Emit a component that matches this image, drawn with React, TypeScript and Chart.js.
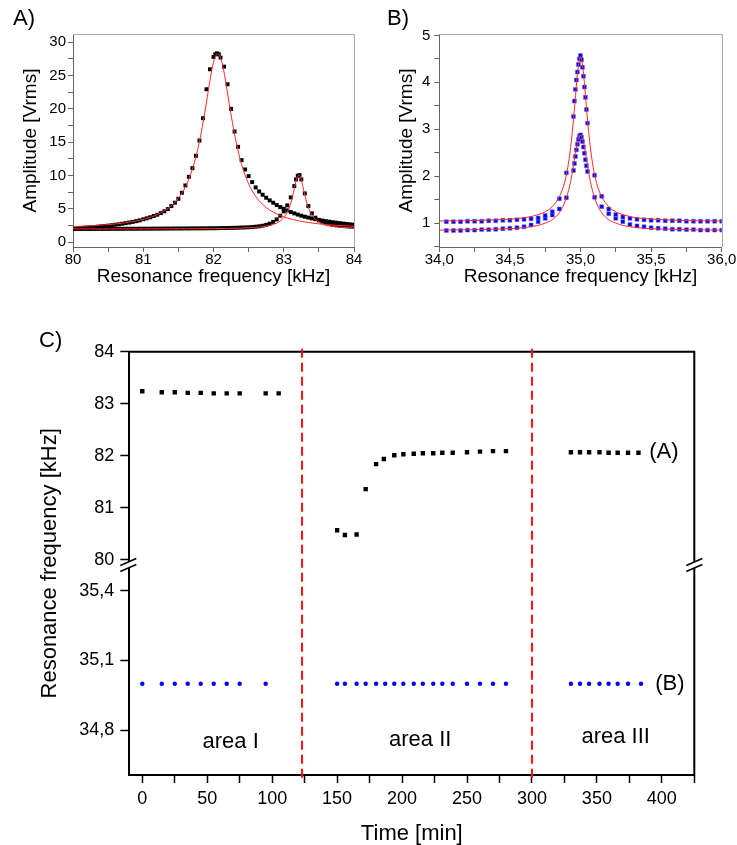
import React, { useEffect, useRef } from 'react';
import { Chart, registerables } from 'chart.js';

Chart.register(...registerables);

const FONT = "'Liberation Sans', Arial, Helvetica, sans-serif";
const RED = '#ff2a2a';

// ---------------- Panel A : amplitude vs frequency (80-84 kHz) ----------------
const A_PEAK1_FREQ = [
  80.0, 80.05, 80.1, 80.15, 80.2, 80.25, 80.3, 80.35, 80.4, 80.45,
  80.5, 80.55, 80.6, 80.65, 80.7, 80.75, 80.8, 80.85, 80.9, 80.95,
  81.0, 81.05, 81.1, 81.15, 81.2, 81.25, 81.3, 81.35, 81.4, 81.45,
  81.5, 81.55, 81.6, 81.65, 81.7, 81.75, 81.8, 81.85, 81.9, 81.95,
  82.0, 82.025, 82.05, 82.075, 82.1, 82.15, 82.2, 82.25, 82.3, 82.35, 82.4, 82.45,
  82.5, 82.55, 82.6, 82.65, 82.7, 82.75, 82.8, 82.85, 82.9, 82.95,
  83.0, 83.05, 83.1, 83.15, 83.2, 83.25, 83.3, 83.35, 83.4, 83.45,
  83.5, 83.55, 83.6, 83.65, 83.7, 83.75, 83.8, 83.85, 83.9, 83.95, 84.0,
];
const A_PEAK1_AMP = [
  2.05, 2.08, 2.11, 2.14, 2.18, 2.22, 2.26, 2.3, 2.35, 2.4,
  2.46, 2.52, 2.59, 2.66, 2.74, 2.83, 2.92, 3.02, 3.13, 3.25,
  3.42, 3.56, 3.72, 3.9, 4.1, 4.35, 4.62, 4.95, 5.4, 5.9,
  6.5, 7.4, 8.5, 9.8, 11.1, 12.95, 15.25, 18.6, 22.95, 25.95,
  27.8, 28.2, 28.35, 28.2, 27.7, 26.35, 23.7, 20.0, 16.6, 14.3, 12.3, 10.9,
  9.9, 9.0, 8.2, 7.6, 7.1, 6.65, 6.25, 5.9, 5.55, 5.25,
  5.0, 4.75, 4.5, 4.3, 4.12, 3.95, 3.8, 3.67, 3.55, 3.43,
  3.32, 3.22, 3.13, 3.05, 2.97, 2.9, 2.83, 2.76, 2.7, 2.65, 2.6,
];
const A_PEAK2_FREQ = [
  80.0, 80.05, 80.1, 80.15, 80.2, 80.25, 80.3, 80.35, 80.4, 80.45,
  80.5, 80.55, 80.6, 80.65, 80.7, 80.75, 80.8, 80.85, 80.9, 80.95,
  81.0, 81.05, 81.1, 81.15, 81.2, 81.25, 81.3, 81.35, 81.4, 81.45,
  81.5, 81.55, 81.6, 81.65, 81.7, 81.75, 81.8, 81.85, 81.9, 81.95,
  82.0, 82.05, 82.1, 82.15, 82.2, 82.25, 82.3, 82.35, 82.4, 82.45,
  82.5, 82.55, 82.6, 82.65, 82.7, 82.75, 82.8, 82.85, 82.9, 82.95,
  83.0, 83.05, 83.1, 83.15, 83.175, 83.2, 83.225, 83.25, 83.3, 83.35, 83.4, 83.45,
  83.5, 83.55, 83.6, 83.65, 83.7, 83.75, 83.8, 83.85, 83.9, 83.95, 84.0,
];
const A_PEAK2_AMP = [
  1.95, 1.95, 1.95, 1.96, 1.96, 1.96, 1.96, 1.97, 1.97, 1.97,
  1.97, 1.98, 1.98, 1.98, 1.98, 1.99, 1.99, 1.99, 1.99, 2.0,
  2.0, 2.0, 2.0, 2.01, 2.01, 2.01, 2.02, 2.02, 2.02, 2.03,
  2.03, 2.03, 2.04, 2.04, 2.05, 2.05, 2.05, 2.06, 2.06, 2.07,
  2.07, 2.08, 2.09, 2.1, 2.11, 2.12, 2.13, 2.15, 2.17, 2.19,
  2.22, 2.25, 2.3, 2.36, 2.45, 2.58, 2.76, 3.02, 3.4, 3.95,
  4.6, 5.5, 6.7, 8.4, 9.4, 9.95, 10.05, 9.4, 7.3, 5.4, 4.3, 3.65,
  3.25, 2.98, 2.8, 2.67, 2.58, 2.5, 2.44, 2.39, 2.35, 2.31, 2.28,
];
const A_FIT1_FREQ = [
  80.0, 80.25, 80.5, 80.75, 81.0, 81.2, 81.4, 81.5, 81.6, 81.7,
  81.8, 81.85, 81.9, 81.95, 82.0, 82.06, 82.12, 82.17, 82.22, 82.27,
  82.32, 82.4, 82.5, 82.6, 82.7, 82.8, 83.0, 83.25, 83.5, 83.75, 84.0,
];
const A_FIT1_AMP = [
  2.31, 2.43, 2.61, 2.9, 3.4, 4.11, 5.45, 6.58, 8.29, 10.95,
  15.1, 17.9, 21.0, 24.3, 27.0, 28.3, 27.0, 24.3, 21.0, 17.9,
  15.1, 11.64, 8.73, 6.87, 5.64, 4.8, 3.78, 3.1, 2.73, 2.51, 2.37,
];
const A_FIT2_FREQ = [
  80.0, 81.0, 82.0, 82.4, 82.6, 82.7, 82.8, 82.9, 82.95, 83.0,
  83.05, 83.1, 83.15, 83.18, 83.215, 83.25, 83.28, 83.33, 83.38, 83.43,
  83.48, 83.53, 83.63, 83.73, 83.83, 84.0,
];
const A_FIT2_AMP = [
  1.96, 1.97, 2.02, 2.09, 2.2, 2.31, 2.49, 2.84, 3.15, 3.64,
  4.46, 5.84, 7.99, 9.35, 10.1, 9.35, 7.99, 5.84, 4.46, 3.64,
  3.15, 2.84, 2.49, 2.31, 2.2, 2.1,
];

// ---------------- Panel B : amplitude vs frequency (34-36 kHz) ----------------
const B_FREQ = [
  34.05, 34.1, 34.15, 34.2, 34.25, 34.3, 34.35, 34.4, 34.45, 34.5,
  34.55, 34.6, 34.65, 34.7, 34.75, 34.8, 34.85, 34.9,
  34.95, 34.957, 34.964, 34.971, 34.978, 34.985, 34.992, 35.0,
  35.007, 35.014, 35.021, 35.028, 35.035, 35.042, 35.05,
  35.1, 35.15, 35.2, 35.25, 35.3, 35.35, 35.4, 35.45, 35.5, 35.55,
  35.6, 35.65, 35.7, 35.75, 35.8, 35.85, 35.9, 35.95, 36.0,
];
const B_TALL_AMP = [
  1.03, 1.03, 1.03, 1.04, 1.04, 1.04, 1.05, 1.05, 1.06, 1.06,
  1.07, 1.08, 1.09, 1.11, 1.16, 1.24, 1.52, 2.07,
  3.27, 3.6, 3.85, 4.05, 4.22, 4.38, 4.5, 4.57,
  4.48, 4.32, 4.13, 3.9, 3.68, 3.42, 3.13,
  2.02, 1.57, 1.3, 1.18, 1.13, 1.1, 1.08, 1.07, 1.06, 1.06,
  1.05, 1.05, 1.05, 1.04, 1.04, 1.04, 1.04, 1.04, 1.04,
];
const B_SHORT_AMP = [
  0.84, 0.84, 0.84, 0.85, 0.85, 0.86, 0.86, 0.87, 0.88, 0.89,
  0.9, 0.92, 0.96, 1.03, 1.1, 1.17, 1.3, 1.54,
  2.12, 2.27, 2.42, 2.56, 2.68, 2.78, 2.85, 2.88,
  2.83, 2.74, 2.62, 2.49, 2.35, 2.22, 2.1,
  1.55, 1.35, 1.2, 1.1, 1.03, 0.97, 0.94, 0.92, 0.9, 0.89,
  0.88, 0.87, 0.87, 0.86, 0.86, 0.85, 0.85, 0.85, 0.85,
];
const B_FIT_FREQ = [
  34.0, 34.2, 34.4, 34.5, 34.6, 34.7, 34.75, 34.8, 34.85, 34.88,
  34.9, 34.92, 34.94, 34.96, 34.98, 35.0, 35.02, 35.04, 35.06, 35.08,
  35.1, 35.12, 35.15, 35.2, 35.25, 35.3, 35.4, 35.5, 35.6, 35.8, 36.0,
];
const B_FIT_TALL = [
  1.045, 1.05, 1.07, 1.085, 1.11, 1.18, 1.24, 1.35, 1.56, 1.79,
  2.03, 2.38, 2.88, 3.54, 4.23, 4.55, 4.23, 3.54, 2.88, 2.38,
  2.03, 1.79, 1.56, 1.35, 1.24, 1.18, 1.11, 1.085, 1.07, 1.05, 1.045,
];
const B_FIT_SHORT = [
  0.85, 0.856, 0.87, 0.88, 0.904, 0.95, 1.0, 1.07, 1.22, 1.38,
  1.54, 1.75, 2.04, 2.4, 2.73, 2.88, 2.73, 2.4, 2.04, 1.75,
  1.54, 1.38, 1.22, 1.07, 1.0, 0.95, 0.904, 0.88, 0.87, 0.856, 0.85,
];

// ---------------- Panel C : resonance frequency vs time ----------------
const C_TIME_A = [
  0, 15, 25, 35, 45, 55, 65, 75, 95, 105,
  150, 156, 165, 172, 180, 186, 194, 201, 209, 216, 224, 231, 239, 250, 260, 270, 280,
  330, 337, 344, 352, 359, 366, 374, 382,
];
const C_FREQ_A = [
  83.24, 83.22, 83.22, 83.21, 83.21, 83.2, 83.2, 83.2, 83.2, 83.2,
  80.57, 80.48, 80.49, 81.36, 81.84, 81.94, 82.01, 82.03, 82.04, 82.05, 82.05, 82.06, 82.06, 82.07, 82.08, 82.09, 82.09,
  82.07, 82.07, 82.07, 82.07, 82.06, 82.06, 82.06, 82.06,
];
const C_TIME_B = [
  0, 15, 25, 35, 45, 55, 65, 75, 95,
  150, 156, 165, 172, 180, 187, 194, 201, 209, 216, 224, 231, 239, 250, 260, 270, 280,
  330, 337, 344, 352, 359, 366, 374, 384,
];
const C_FREQ_B = [
  35.0, 35.0, 35.0, 35.0, 35.0, 35.0, 35.0, 35.0, 35.0,
  35.0, 35.0, 35.0, 35.0, 35.0, 35.0, 35.0, 35.0, 35.0, 35.0, 35.0, 35.0, 35.0, 35.0, 35.0, 35.0, 35.0,
  35.0, 35.0, 35.0, 35.0, 35.0, 35.0, 35.0, 35.0,
];
const C_UPPER_TICKS_STEP = 1;
const C_LOWER_TICKS = [34.8, 35.1, 35.4];
const C_DIVIDERS = [123, 300];
const C_BREAK_AT = 80;
const AREA_TEXT = ['area I', 'area II', 'area III'];
const AREA_TIME = [68, 214, 364.5];
const AREA_FREQ = [34.724, 34.732, 34.745];
const TAG_A = { text: '(A)', time: 390.3, freq: 82.07 };
const TAG_B = { text: '(B)', time: 394.9, freq: 35.0 };

// ---------------- helpers ----------------
const pts = (xs: number[], ys: number[]) => xs.map((x, i) => ({ x, y: ys[i] }));
const isMult = (v: number, step: number) => Math.abs(v / step - Math.round(v / step)) < 1e-6;
const comma = (v: number, d: number) => v.toFixed(d).replace('.', ',');

const abFrame = {
  id: 'abFrame',
  afterDraw(chart: any) {
    const { ctx, chartArea: ca } = chart;
    ctx.save();
    ctx.strokeStyle = '#a8a8a8';
    ctx.lineWidth = 1;
    ctx.beginPath();
    const t = Math.round(ca.top) + 0.5;
    const r = Math.round(ca.right) + 0.5;
    ctx.moveTo(ca.left, t);
    ctx.lineTo(r, t);
    ctx.lineTo(r, ca.bottom);
    ctx.stroke();
    ctx.restore();
  },
};

function abConfig(p: {
  datasets: any[];
  padRight: number;
  yWidth: number;
  xMin: number; xMax: number; xStep: number; xLabelStep: number; xFmt: (v: number) => string;
  yMin: number; yMax: number; yStep: number; yLabelStep: number;
  yTitlePad: number; yTickPad: number;
}) {
  const tickFont = { family: FONT, size: 15, lineHeight: 1 };
  const titleFont = { family: FONT, size: 19, lineHeight: 1 };
  return {
    type: 'scatter',
    data: { datasets: p.datasets },
    options: {
      animation: false,
      responsive: false,
      devicePixelRatio: 1,
      events: [],
      layout: { padding: { left: 0, top: 34, right: p.padRight, bottom: 0 } },
      plugins: { legend: { display: false }, tooltip: { enabled: false } },
      scales: {
        x: {
          type: 'linear',
          min: p.xMin,
          max: p.xMax,
          afterFit: (s: any) => { s.height = 53; },
          ticks: {
            stepSize: p.xStep, autoSkip: false, maxRotation: 0, includeBounds: false,
            padding: 0, color: '#000', font: tickFont,
            callback: (v: any) => (isMult(Number(v), p.xLabelStep) ? p.xFmt(Number(v)) : ''),
          },
          grid: { drawOnChartArea: false, tickLength: 5, tickColor: '#666' },
          border: { color: '#666', width: 1 },
          title: {
            display: true, text: 'Resonance frequency [kHz]', color: '#000', font: titleFont,
            padding: { top: 0, bottom: 13.5 },
          },
        },
        y: {
          type: 'linear',
          min: p.yMin,
          max: p.yMax,
          afterFit: (s: any) => { s.width = p.yWidth; },
          ticks: {
            stepSize: p.yStep, autoSkip: false, includeBounds: false,
            padding: p.yTickPad, color: '#000', font: tickFont,
            callback: (v: any) => (isMult(Number(v), p.yLabelStep) ? String(Number(v)) : ''),
          },
          grid: { drawOnChartArea: false, tickLength: 5, tickColor: '#666' },
          border: { color: '#666', width: 1 },
          title: {
            display: true, text: 'Amplitude [Vrms]', color: '#000', font: titleFont,
            padding: { top: p.yTitlePad, bottom: 0 },
          },
        },
      },
    },
    plugins: [abFrame],
  };
}

const fitLine = (data: any[]) => ({
  data, showLine: true, borderColor: RED, borderWidth: 1, pointRadius: 0,
  cubicInterpolationMode: 'monotone', order: 0,
});

function configA() {
  const sq = (data: any[]) => ({
    data, showLine: false, pointStyle: 'rect', pointRadius: 2.8,
    backgroundColor: '#000', borderColor: '#000', borderWidth: 0, order: 1,
  });
  return abConfig({
    datasets: [
      fitLine(pts(A_FIT1_FREQ, A_FIT1_AMP)),
      fitLine(pts(A_FIT2_FREQ, A_FIT2_AMP)),
      sq(pts(A_PEAK1_FREQ, A_PEAK1_AMP)),
      sq(pts(A_PEAK2_FREQ, A_PEAK2_AMP)),
    ],
    padRight: 16, yWidth: 73,
    xMin: 80, xMax: 84, xStep: 0.5, xLabelStep: 1, xFmt: (v) => String(v),
    yMin: -0.75, yMax: 31.25, yStep: 2.5, yLabelStep: 5,
    yTitlePad: 21.5, yTickPad: 2,
  });
}

function configB() {
  const sq = (data: any[]) => ({
    data, showLine: false, pointStyle: 'rect', pointRadius: 2.8,
    backgroundColor: '#0000f0', borderColor: 'rgba(110,110,255,0.55)', borderWidth: 1, order: 1,
  });
  return abConfig({
    datasets: [
      fitLine(pts(B_FIT_FREQ, B_FIT_TALL)),
      fitLine(pts(B_FIT_FREQ, B_FIT_SHORT)),
      sq(pts(B_FREQ, B_TALL_AMP)),
      sq(pts(B_FREQ, B_SHORT_AMP)),
    ],
    padRight: 15.3, yWidth: 69.3,
    xMin: 34, xMax: 36, xStep: 0.25, xLabelStep: 0.5, xFmt: (v) => comma(v, 1),
    yMin: 0.49, yMax: 5.03, yStep: 0.5, yLabelStep: 1,
    yTitlePad: 27.2, yTickPad: 4,
  });
}

const cOverlay = {
  id: 'cOverlay',
  afterDraw(chart: any) {
    const { ctx, chartArea: ca, scales } = chart;
    const xs = scales.x;
    const yTop = scales.yTop;
    const yBot = scales.yBot;
    ctx.save();
    // top and right frame
    ctx.strokeStyle = '#000';
    ctx.lineWidth = 2;
    ctx.beginPath();
    ctx.moveTo(ca.left - 1, ca.top);
    ctx.lineTo(ca.right, ca.top);
    ctx.lineTo(ca.right, ca.bottom + 1);
    ctx.stroke();
    // dashed area dividers
    ctx.strokeStyle = '#ff1010';
    ctx.lineWidth = 2;
    ctx.setLineDash([9, 5]);
    for (const t of C_DIVIDERS) {
      const px = xs.getPixelForValue(t);
      ctx.beginPath();
      ctx.moveTo(px, ca.top - 3);
      ctx.lineTo(px, ca.bottom + 3);
      ctx.stroke();
    }
    ctx.setLineDash([]);
    // axis breaks
    const by = yTop.getPixelForValue(C_BREAK_AT) + 5;
    for (const bx of [ca.left - 1, ca.right]) {
      ctx.fillStyle = '#fff';
      ctx.fillRect(bx - 3, by - 3, 6, 6);
      ctx.strokeStyle = '#000';
      ctx.lineWidth = 1.5;
      for (const c of [by - 3, by + 3]) {
        ctx.beginPath();
        ctx.moveTo(bx - 8, c + 3.5);
        ctx.lineTo(bx + 8, c - 3.5);
        ctx.stroke();
      }
    }
    // texts
    ctx.fillStyle = '#000';
    ctx.font = `22px ${FONT}`;
    ctx.textAlign = 'center';
    ctx.textBaseline = 'alphabetic';
    AREA_TEXT.forEach((txt, i) => {
      ctx.fillText(txt, xs.getPixelForValue(AREA_TIME[i]), yBot.getPixelForValue(AREA_FREQ[i]));
    });
    ctx.textAlign = 'left';
    ctx.textBaseline = 'middle';
    ctx.fillText(TAG_A.text, xs.getPixelForValue(TAG_A.time), yTop.getPixelForValue(TAG_A.freq));
    ctx.fillText(TAG_B.text, xs.getPixelForValue(TAG_B.time), yBot.getPixelForValue(TAG_B.freq));
    // y axis title (spans both stacked axes)
    ctx.translate(50, (ca.top + ca.bottom) / 2);
    ctx.rotate(-Math.PI / 2);
    ctx.textAlign = 'center';
    ctx.textBaseline = 'middle';
    ctx.fillText('Resonance frequency [kHz]', 0, 0);
    ctx.restore();
  },
};

function configC() {
  const tickFont = { family: FONT, size: 18, lineHeight: 1 };
  const yCommon = {
    type: 'linear',
    position: 'left',
    stack: 'freq',
    afterFit: (s: any) => { s.width = 129.3; },
    grid: { drawOnChartArea: false, tickLength: 9, tickColor: '#000', tickWidth: 1.5 },
    border: { color: '#000', width: 2 },
  };
  return {
    type: 'scatter',
    data: {
      datasets: [
        {
          data: pts(C_TIME_A, C_FREQ_A), yAxisID: 'yTop', showLine: false,
          pointStyle: 'rect', pointRadius: 3.1, backgroundColor: '#000', borderWidth: 0,
        },
        {
          data: pts(C_TIME_B, C_FREQ_B), yAxisID: 'yBot', showLine: false,
          pointStyle: 'circle', pointRadius: 2.2, backgroundColor: '#0000ff', borderWidth: 0,
        },
      ],
    },
    options: {
      animation: false,
      responsive: false,
      devicePixelRatio: 1,
      events: [],
      layout: { padding: { left: 0, top: 51.7, right: 42.7, bottom: 0 } },
      plugins: { legend: { display: false }, tooltip: { enabled: false } },
      scales: {
        x: {
          type: 'linear',
          min: -10,
          max: 425,
          afterFit: (s: any) => { s.height = 70; },
          ticks: {
            stepSize: 25, autoSkip: false, maxRotation: 0, includeBounds: false,
            padding: 7, color: '#000', font: tickFont,
            callback: (v: any) => (isMult(Number(v), 50) ? String(Number(v)) : ''),
          },
          grid: { drawOnChartArea: false, tickLength: 8, tickColor: '#000', tickWidth: 1.5 },
          border: { color: '#000', width: 2 },
          title: {
            display: true, text: 'Time [min]', color: '#000',
            font: { family: FONT, size: 22, lineHeight: 1 }, padding: { top: 0, bottom: 0 },
          },
        },
        yBot: {
          ...yCommon,
          stackWeight: 205,
          min: 34.607,
          max: 35.49,
          afterBuildTicks: (s: any) => { s.ticks = C_LOWER_TICKS.map((value) => ({ value })); },
          ticks: {
            autoSkip: false, padding: 6, color: '#000', font: tickFont,
            callback: (v: any) => comma(Number(v), 1),
          },
        },
        yTop: {
          ...yCommon,
          stackWeight: 218,
          min: 79.81,
          max: 84,
          ticks: {
            stepSize: C_UPPER_TICKS_STEP, autoSkip: false, includeBounds: false,
            padding: 6, color: '#000', font: tickFont,
            callback: (v: any) => String(Number(v)),
          },
        },
      },
    },
    plugins: [cOverlay],
  };
}

function ChartCanvas(props: { left: number; top: number; width: number; height: number; make: () => any }) {
  const ref = useRef<HTMLCanvasElement | null>(null);
  useEffect(() => {
    if (!ref.current) return;
    const chart = new Chart(ref.current, props.make());
    return () => chart.destroy();
  }, []);
  return (
    <canvas
      ref={ref}
      width={props.width}
      height={props.height}
      style={{ position: 'absolute', left: props.left, top: props.top, width: props.width, height: props.height }}
    />
  );
}

const panelLabel = (text: string, left: number, top: number) => (
  <div
    style={{
      position: 'absolute', left, top, fontFamily: FONT, fontSize: 22, lineHeight: '22px',
      color: '#000', whiteSpace: 'nowrap',
    }}
  >
    {text}
  </div>
);

export default function App() {
  return (
    <div style={{ position: 'absolute', left: 0, top: 0, width: 737, height: 845, background: '#fff', overflow: 'hidden' }}>
      <ChartCanvas left={0} top={0} width={370} height={300} make={configA} />
      <ChartCanvas left={370} top={0} width={367} height={300} make={configB} />
      <ChartCanvas left={0} top={300} width={737} height={545} make={configC} />
      {panelLabel('A)', 13, 7)}
      {panelLabel('B)', 387, 7)}
      {panelLabel('C)', 39, 329)}
    </div>
  );
}
